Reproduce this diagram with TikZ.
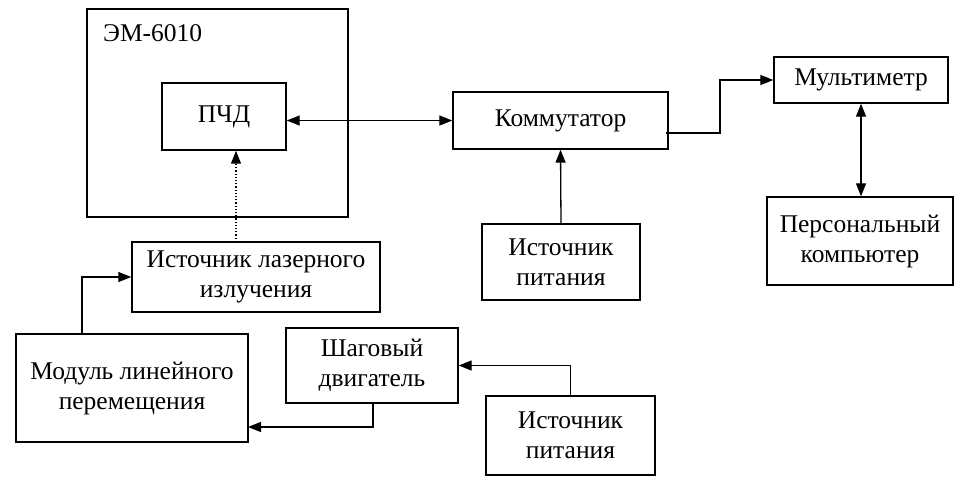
\documentclass[tikz,border=0pt]{standalone}
\usepackage{fontspec}
\setmainfont{Liberation Serif}
\usetikzlibrary{arrows.meta,calc}
\begin{document}
\begin{tikzpicture}[x=1pt,y=-1pt,
  box/.style={draw,line width=1.4pt,inner sep=0pt,align=center,font=\fontsize{25.5}{30}\selectfont},
  conn/.style={line width=1.3pt,-{Triangle[length=13pt,width=10pt]}},
  biconn/.style={line width=1.3pt,{Triangle[length=13pt,width=10pt]}-{Triangle[length=13pt,width=10pt]}},
  lbl/.style={font=\fontsize{25.5}{30}\selectfont,inner sep=0pt}]
\useasboundingbox (0,0) rectangle (966,479);
\node[box,minimum width=261pt,minimum height=208pt] (em) at (217.5,113) {};
\node[lbl,anchor=west] (emlbl) at (103,33) {ЭМ-6010};
\node[box,minimum width=124pt,minimum height=67pt] (pcd) at (224,116.5) {ПЧД};
\node[box,minimum width=215pt,minimum height=57pt] (komm) at (560.5,120.5) {Коммутатор};
\node[box,minimum width=174pt,minimum height=46pt] (mult) at (861,80) {Мультиметр};
\node[box,minimum width=186pt,minimum height=88pt] (pc) at (860,241) {Персональный\\компьютер};
\node[box,minimum width=158pt,minimum height=76pt] (ps1) at (561,262) {Источник\\питания};
\node[box,minimum width=248pt,minimum height=70pt] (las) at (256,277) {Источник лазерного\\излучения};
\node[box,minimum width=232pt,minimum height=108pt] (mod) at (132,388) {Модуль линейного\\перемещения};
\node[box,minimum width=172pt,minimum height=75pt] (stepm) at (372,365.5) {Шаговый\\двигатель};
\node[box,minimum width=169pt,minimum height=79pt] (ps2) at (570.5,435.5) {Источник\\питания};
% connectors
\draw[biconn] (komm.west -| pcd.east) -- (komm.west);
\coordinate (lasdot) at (236,242);
\draw[line width=1.2pt,dotted,-{Triangle[length=13pt,width=10pt]}] (lasdot) -- (lasdot |- pcd.south);
\coordinate (kout) at (666,133);
\draw[conn] (kout) -- (720,133) -- (720,80) -- (mult.west);
\draw[biconn] (mult.south) -- (mult.south |- pc.north);
\draw[conn] (ps1.north) -- (komm.south);
\coordinate (modtop) at (82,334);
\draw[conn] (modtop) |- (las.west);
\coordinate (steplow) at (373,403);
\coordinate (modin) at (248,427);
\draw[conn] (steplow) |- (modin);
\draw[conn] (ps2.north) |- (stepm.east);
\end{tikzpicture}
\end{document}
